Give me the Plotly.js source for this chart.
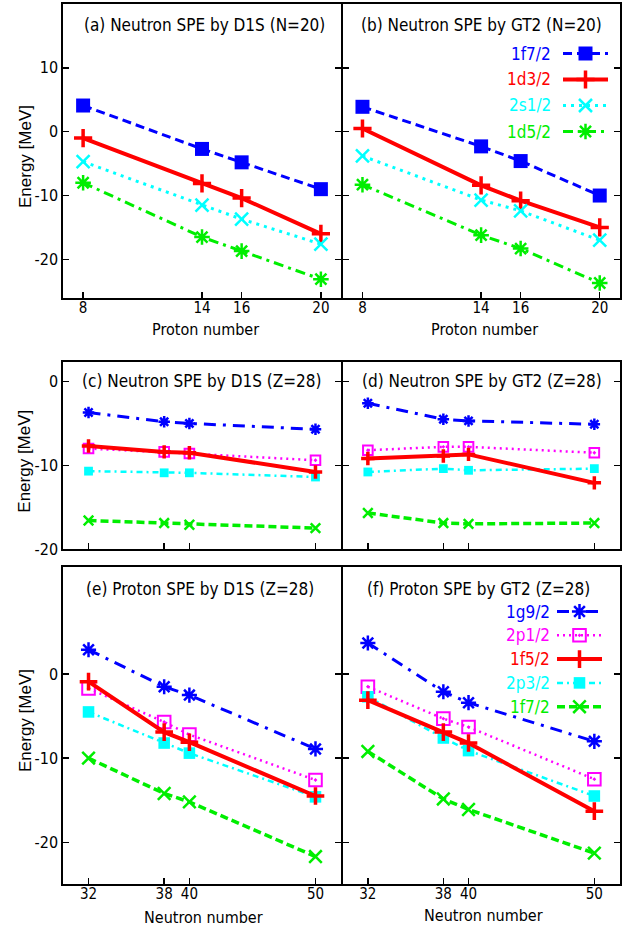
<!DOCTYPE html>
<html>
<head>
<meta charset="utf-8">
<script src="https://cdn.plot.ly/plotly-3.0.1.min.js"></script>
<style>html,body{margin:0;padding:0;background:#fff;}#chart{width:628px;height:928px;}</style>
</head>
<body>
<div id="chart"></div>
<script>
// ---------------- DATA ----------------
const protonNumber = [8, 14, 16, 20];
const neutronNumber = [32, 38, 40, 50];

const protonTicks = [8, 14, 16, 20];
const neutronTicks = [32, 38, 40, 50];
const energyTicksTop = [10, 0, -10, -20];
const energyTicksLow = [0, -10, -20];

const labelsN20 = ['1f7/2', '1d3/2', '2s1/2', '1d5/2'];
const labelsZ28 = ['1g9/2', '2p1/2', '1f5/2', '2p3/2', '1f7/2'];

// (a) Neutron SPE by D1S (N=20)
const a_1f7 = [4.1, -2.7, -4.8, -9.0];
const a_1d3 = [-1.0, -8.1, -10.4, -16.0];
const a_2s1 = [-4.7, -11.5, -13.7, -17.6];
const a_1d5 = [-8.0, -16.5, -18.7, -23.1];
// (b) Neutron SPE by GT2 (N=20)
const b_1f7 = [3.9, -2.3, -4.6, -10.0];
const b_1d3 = [0.5, -8.4, -10.8, -15.0];
const b_2s1 = [-3.8, -10.7, -12.4, -17.0];
const b_1d5 = [-8.3, -16.2, -18.3, -23.7];
// (c) Neutron SPE by D1S (Z=28)
const c_1g9 = [-3.7, -4.8, -5.0, -5.7];
const c_2p1 = [-8.0, -8.4, -8.6, -9.4];
const c_1f5 = [-7.7, -8.4, -8.5, -10.8];
const c_2p3 = [-10.7, -10.9, -10.9, -11.4];
const c_1f7 = [-16.6, -16.9, -17.1, -17.5];
// (d) Neutron SPE by GT2 (Z=28)
const d_1g9 = [-2.6, -4.5, -4.7, -5.1];
const d_2p1 = [-8.2, -7.8, -7.8, -8.5];
const d_1f5 = [-9.2, -8.9, -8.7, -12.1];
const d_2p3 = [-10.8, -10.4, -10.6, -10.4];
const d_1f7 = [-15.7, -16.9, -17.0, -16.9];
// (e) Proton SPE by D1S (Z=28)
const e_1g9 = [2.9, -1.5, -2.5, -8.9];
const e_2p1 = [-1.7, -5.7, -7.2, -12.6];
const e_1f5 = [-0.9, -6.9, -8.1, -14.5];
const e_2p3 = [-4.5, -8.2, -9.4, -14.6];
const e_1f7 = [-10.0, -14.2, -15.2, -21.7];
// (f) Proton SPE by GT2 (Z=28)
const f_1g9 = [3.7, -2.1, -3.4, -8.0];
const f_2p1 = [-1.5, -5.3, -6.3, -12.5];
const f_1f5 = [-3.1, -6.9, -8.2, -16.3];
const f_2p3 = [-2.7, -7.6, -9.1, -14.5];
const f_1f7 = [-9.2, -14.85, -16.1, -21.3];

const panelTitles = [
  '(a) Neutron SPE by D1S (N=20)',
  '(b) Neutron SPE by GT2 (N=20)',
  '(c) Neutron SPE by D1S (Z=28)',
  '(d) Neutron SPE by GT2 (Z=28)',
  '(e) Proton SPE by D1S (Z=28)',
  '(f) Proton SPE by GT2 (Z=28)'
];
const xTitleTop = 'Proton number';
const xTitleBottom = 'Neutron number';
const yTitle = 'Energy [MeV]';

// ---------------- STYLE ----------------
const FONT = "'Liberation Sans Narrow','Arial Narrow','DejaVu Sans Condensed','Liberation Sans',Arial,sans-serif";
const FONT_REG = "'Liberation Sans',Arial,sans-serif";
const W = 628, H = 928;
const LW = 2;

const styleN20 = {
  '1f7/2': {color:'#0000ff', dash:'9px,5px', width:3, symbol:'square', size:14, mlw:0},
  '1d3/2': {color:'#ff0000', dash:'solid', width:4, symbol:'cross-thin', size:13, mlw:3.5},
  '2s1/2': {color:'#00ffff', dash:'3px,5px', width:3, symbol:'x-thin', size:13, mlw:2.5},
  '1d5/2': {color:'#00ee00', dash:'10px,5px,3px,5px', width:3, symbol:'asterisk', size:13, mlw:2.5}
};
const styleZ28 = {
  '1g9/2': {color:'#0000ff', dash:'12px,7px,3px,7px', width:3, symbol:'asterisk', size:12, mlw:2.5},
  '2p1/2': {color:'#ff00ff', dash:'2px,4px', width:2.5, symbol:'square-open-dot', size:12, mlw:2},
  '1f5/2': {color:'#ff0000', dash:'solid', width:4, symbol:'cross-thin', size:12, mlw:3.5},
  '2p3/2': {color:'#00ffff', dash:'6px,4px,2px,4px', width:2.5, symbol:'square', size:11, mlw:0},
  '1f7/2': {color:'#00ee00', dash:'8px,4px', width:3.5, symbol:'x-thin', size:12, mlw:2.5}
};
const drawOrderZ28 = ['1g9/2', '2p1/2', '2p3/2', '1f5/2', '1f7/2'];

// pixel rectangles of the panels; the shared border lines coincide at x = 341.7
const colX = [[63.3, 341.7 - LW / 2], [341.7 + LW / 2, 619.5]];
const rowY = [[4, 297.7], [362.3, 549], [567.3, 884.3]];

function series(xs, ys, st, xa, ya, scale) {
  scale = scale || 1;
  return {
    type: 'scatter', mode: 'lines+markers', x: xs, y: ys, xaxis: xa, yaxis: ya,
    showlegend: false, hoverinfo: 'skip', cliponaxis: false,
    line: {color: st.color, width: st.width, dash: st.dash},
    marker: {symbol: st.symbol, size: st.size * scale, color: st.color,
             line: {color: st.color, width: st.mlw}}
  };
}

const traces = [];
const topSets = [
  {xa:'x', ya:'y', d:{'1f7/2':a_1f7, '1d3/2':a_1d3, '2s1/2':a_2s1, '1d5/2':a_1d5}},
  {xa:'x2', ya:'y2', d:{'1f7/2':b_1f7, '1d3/2':b_1d3, '2s1/2':b_2s1, '1d5/2':b_1d5}}
];
topSets.forEach(p => labelsN20.forEach(k => traces.push(series(protonNumber, p.d[k], styleN20[k], p.xa, p.ya))));

const lowSets = [
  {xa:'x3', ya:'y3', s:0.8, d:{'1g9/2':c_1g9, '2p1/2':c_2p1, '1f5/2':c_1f5, '2p3/2':c_2p3, '1f7/2':c_1f7}},
  {xa:'x4', ya:'y4', s:0.8, d:{'1g9/2':d_1g9, '2p1/2':d_2p1, '1f5/2':d_1f5, '2p3/2':d_2p3, '1f7/2':d_1f7}},
  {xa:'x5', ya:'y5', s:1.05, d:{'1g9/2':e_1g9, '2p1/2':e_2p1, '1f5/2':e_1f5, '2p3/2':e_2p3, '1f7/2':e_1f7}},
  {xa:'x6', ya:'y6', s:1.05, d:{'1g9/2':f_1g9, '2p1/2':f_2p1, '1f5/2':f_1f5, '2p3/2':f_2p3, '1f7/2':f_1f7}}
];
lowSets.forEach(p => drawOrderZ28.forEach(k => traces.push(series(neutronNumber, p.d[k], styleZ28[k], p.xa, p.ya, p.s))));

// ---------------- KEYS (gnuplot style: label then sample) ----------------
const annotations = [];
function key(labels, styles, textRight, x0, x1, y0, dy, scale) {
  labels.forEach((k, i) => {
    const st = styles[k];
    const y = y0 + i * dy;
    annotations.push({xref:'paper', yref:'paper', x: textRight / W, y: 1 - y / H,
      xanchor:'right', yanchor:'middle', showarrow:false, text:k,
      font:{family:FONT, size:17, color:st.color}});
    traces.push({type:'scatter', mode:'lines', x:[x0, x1], y:[y, y], xaxis:'x7', yaxis:'y7',
      showlegend:false, hoverinfo:'skip', cliponaxis:false,
      line:{color:st.color, width:st.width, dash:st.dash}});
    traces.push({type:'scatter', mode:'markers', x:[(x0 + x1) / 2], y:[y], xaxis:'x7', yaxis:'y7',
      showlegend:false, hoverinfo:'skip', cliponaxis:false,
      marker:{symbol:st.symbol, size:st.size * scale, color:st.color, line:{color:st.color, width:st.mlw}}});
  });
}
key(labelsN20, styleN20, 553, 563, 608, 53.5, 26, 1);
key(labelsZ28, styleZ28, 552, 557, 602, 611.5, 23.8, 1.05);

function addText(text, px, py, opts) {
  annotations.push(Object.assign({xref:'paper', yref:'paper', x: px / W, y: 1 - py / H,
    xanchor:'center', yanchor:'middle', showarrow:false, text:text,
    font:{family:FONT, size:17, color:'#000'}}, opts || {}));
}

// panel titles
const titlePos = [[204, 25], [481, 25], [201, 381], [482, 381], [200, 588.5], [478, 588.5]];
panelTitles.forEach((t, i) => addText(t, titlePos[i][0], titlePos[i][1]));

// axis titles
const axFont = {family:FONT, size:16, color:'#000'};
addText(xTitleTop, 205, 329, {font:axFont});
addText(xTitleTop, 484, 329, {font:axFont});
addText(xTitleBottom, 203, 917, {font:axFont});
addText(xTitleBottom, 483, 915, {font:axFont});
[157, 461.7, 721].forEach(cy => addText(yTitle, 25, cy,
  {textangle:-90, font:{family:FONT_REG, size:17, color:'#000'}}));

// ---------------- AXES ----------------
function xAxis(col, row, range, ticks, showLabels) {
  return {domain:[colX[col][0] / W, colX[col][1] / W], range: range,
    tickmode:'array', tickvals: ticks, ticktext: ticks.map(String), showticklabels: showLabels,
    ticks:'inside', ticklen:6, tickwidth:1.5, tickcolor:'#000', ticklabelstandoff:-5,
    showline:true, linecolor:'#000', linewidth:LW, mirror:true,
    showgrid:false, zeroline:false, automargin:false, fixedrange:true,
    tickfont:{family:FONT, size:15, color:'#000'}};
}
function yAxis(col, row, range, ticks) {
  return {domain:[1 - rowY[row][1] / H, 1 - rowY[row][0] / H], range: range,
    tickmode:'array', tickvals: ticks, ticktext: ticks.map(String), showticklabels: col === 0,
    ticks:'inside', ticklen:6, tickwidth:1.5, tickcolor:'#000',
    showline:true, linecolor:'#000', linewidth:LW, mirror:'ticks',
    showgrid:false, zeroline:false, automargin:false, fixedrange:true,
    tickfont:{family:FONT, size:16, color:'#000'}};
}

const xRangeTop = [7, 21], xRangeLow = [30, 52];
const yRangeTop = [-26, 20], yRangeMid = [-20, 2.3], yRangeBot = [-25, 12.7];

const layout = {
  width: W, height: H, margin:{l:0, r:0, t:0, b:0},
  paper_bgcolor:'#fff', plot_bgcolor:'rgba(0,0,0,0)', showlegend:false,
  xaxis:  Object.assign(xAxis(0, 0, xRangeTop, protonTicks, true), {anchor:'y'}),
  yaxis:  Object.assign(yAxis(0, 0, yRangeTop, energyTicksTop), {anchor:'x'}),
  xaxis2: Object.assign(xAxis(1, 0, xRangeTop, protonTicks, true), {anchor:'y2'}),
  yaxis2: Object.assign(yAxis(1, 0, yRangeTop, energyTicksTop), {anchor:'x2'}),
  xaxis3: Object.assign(xAxis(0, 1, xRangeLow, neutronTicks, false), {anchor:'y3'}),
  yaxis3: Object.assign(yAxis(0, 1, yRangeMid, energyTicksLow), {anchor:'x3'}),
  xaxis4: Object.assign(xAxis(1, 1, xRangeLow, neutronTicks, false), {anchor:'y4'}),
  yaxis4: Object.assign(yAxis(1, 1, yRangeMid, energyTicksLow), {anchor:'x4'}),
  xaxis5: Object.assign(xAxis(0, 2, xRangeLow, neutronTicks, true), {anchor:'y5'}),
  yaxis5: Object.assign(yAxis(0, 2, yRangeBot, energyTicksLow), {anchor:'x5'}),
  xaxis6: Object.assign(xAxis(1, 2, xRangeLow, neutronTicks, true), {anchor:'y6'}),
  yaxis6: Object.assign(yAxis(1, 2, yRangeBot, energyTicksLow), {anchor:'x6'}),
  // overlay in figure pixels for the keys
  xaxis7: {domain:[0, 1], range:[0, W], visible:false, anchor:'y7', fixedrange:true},
  yaxis7: {domain:[0, 1], range:[H, 0], visible:false, anchor:'x7', fixedrange:true},
  annotations: annotations
};

Plotly.newPlot('chart', traces, layout, {staticPlot:true, displayModeBar:false});
</script>
</body>
</html>
